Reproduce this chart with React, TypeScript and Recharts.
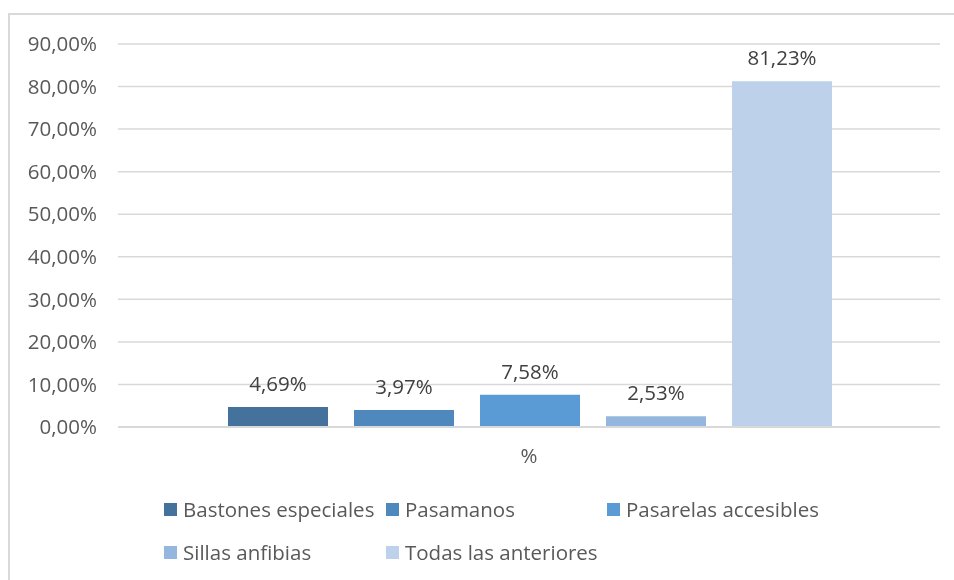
import { BarChart, Bar, XAxis, YAxis, CartesianGrid, LabelList } from 'recharts'

// one category, five series
const categories = ['%']
const seriesNames = ['Bastones especiales', 'Pasamanos', 'Pasarelas accesibles', 'Sillas anfibias', 'Todas las anteriores']
const seriesValues = [4.69, 3.97, 7.58, 2.53, 81.23]
const yTicks = [0, 10, 20, 30, 40, 50, 60, 70, 80, 90]

const COLORS = ['#44729d', '#4e88bc', '#5b9bd5', '#95b7df', '#bdd1ea']
const FONT = '"Open Sans", "Liberation Sans", sans-serif'
const FS = 20.5

const fmt = (v: number) => `${v.toFixed(2).replace('.', ',')}%`

const data = categories.map(name => {
  const row: Record<string, string | number> = { name }
  seriesValues.forEach((v, i) => {
    row[`s${i}`] = v
  })
  return row
})

export default function App() {
  return (
    <div style={{ position: 'relative', width: 946, height: 564, fontFamily: FONT }}>
      {/* chart frame, cut off at the right and bottom like the source */}
      <div
        style={{
          position: 'fixed',
          left: 8,
          top: 13,
          width: 1200,
          height: 1200,
          border: '2px solid #d9d9d9',
          boxSizing: 'border-box',
        }}
      />
      <div style={{ position: 'absolute', left: 0, top: 0 }}>
        <BarChart
          width={946}
          height={460}
          data={data}
          margin={{ top: 36, right: 14, bottom: 0, left: 0 }}
          barCategoryGap={110}
          barGap={26}
        >
          <CartesianGrid vertical={false} stroke="#d9d9d9" strokeWidth={1.5} />
          <XAxis
            dataKey="name"
            height={41}
            tickLine={false}
            tickSize={0}
            tickMargin={21}
            axisLine={{ stroke: '#d9d9d9', strokeWidth: 2 }}
            tick={{ fill: '#595959', fontSize: FS, fontFamily: FONT }}
          />
          <YAxis
            width={110}
            domain={[0, 90]}
            ticks={yTicks}
            interval={0}
            axisLine={false}
            tickLine={false}
            tickSize={0}
            tickMargin={21}
            tickFormatter={fmt}
            tick={{ fill: '#595959', fontSize: FS, fontFamily: FONT }}
          />
          {seriesNames.map((n, i) => (
            <Bar key={n} dataKey={`s${i}`} name={n} fill={COLORS[i]} isAnimationActive={false}>
              <LabelList
                dataKey={`s${i}`}
                position="top"
                offset={16}
                formatter={(v: any) => fmt(Number(v))}
                style={{ fill: '#404040', fontSize: FS, fontFamily: FONT }}
              />
            </Bar>
          ))}
        </BarChart>
      </div>
      <div
        style={{
          position: 'absolute',
          left: 156,
          top: 488,
          display: 'grid',
          gridTemplateColumns: '222px 221px 222px',
          rowGap: 17,
          fontSize: FS,
          color: '#595959',
        }}
      >
        {seriesNames.map((n, i) => (
          <div key={n} style={{ display: 'flex', alignItems: 'center', height: 26, whiteSpace: 'nowrap' }}>
            <span style={{ width: 13, height: 13, background: COLORS[i], marginRight: 6, display: 'inline-block', flexShrink: 0 }} />
            {n}
          </div>
        ))}
      </div>
    </div>
  )
}
